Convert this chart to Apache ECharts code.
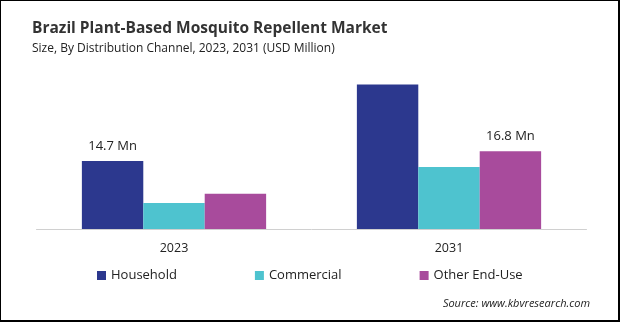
<!DOCTYPE html>
<html>
<head>
<meta charset="utf-8">
<script src="https://cdn.jsdelivr.net/npm/echarts@6/dist/echarts.min.js"></script>
<style>
html,body{margin:0;padding:0;background:#fff;}
#wrap{position:relative;width:620px;height:322px;}
#chart{position:absolute;left:0;top:0;width:620px;height:322px;}
#frame{position:absolute;left:0;top:0;width:620px;height:322px;box-sizing:border-box;border-style:solid;border-color:#000;border-width:1px 2px 2px 1px;pointer-events:none;}
</style>
</head>
<body>
<div id="wrap"><div id="chart"></div><div id="frame"></div></div>
<script>
var categories = ['2023', '2031'];
var seriesNames = ['Household', 'Commercial', 'Other End-Use'];
var household = [14.7, 31.2];
var commercial = [5.6, 13.4];
var otherEndUse = [7.6, 16.8];
var labelTexts = { 'Household-0': '14.7 Mn', 'Other End-Use-1': '16.8 Mn' };
var colors = ['#2c388e', '#4ec3cf', '#a84b9c'];
var font = 'Open Sans';

function mkSeries(name, data, color) {
  return {
    name: name, type: 'bar', data: data, barGap: '0%', barCategoryGap: '33%',
    itemStyle: { color: color },
    label: {
      show: true, position: 'top', distance: 8, color: '#222', fontSize: 13, fontFamily: font,
      formatter: function (p) { var t = labelTexts[name + '-' + p.dataIndex]; return t ? t : ''; }
    },
    emphasis: { disabled: true }
  };
}

var chart = echarts.init(document.getElementById('chart'), null, { renderer: 'canvas' });
chart.setOption({
  animation: false,
  backgroundColor: '#fff',
  title: {
    text: 'Brazil Plant-Based Mosquito Repellent Market',
    subtext: 'Size, By Distribution Channel, 2023, 2031 (USD Million)',
    left: 27, top: 16, itemGap: 6,
    textStyle: { fontFamily: font, fontWeight: 'bold', fontSize: 15.5, color: '#333' },
    subtextStyle: { fontFamily: font, fontSize: 12, color: '#222' }
  },
  legend: {
    data: seriesNames, bottom: 35, left: 92, itemWidth: 9, itemHeight: 9, itemGap: 78,
    icon: 'rect',
    textStyle: { fontFamily: font, fontSize: 13, color: '#222' }
  },
  grid: { left: 36.5, right: 33.5, top: 67, bottom: 93, containLabel: false },
  xAxis: {
    type: 'category', data: categories,
    axisLine: { lineStyle: { color: '#d0d0d0', width: 1 } },
    axisTick: { show: false },
    axisLabel: { fontFamily: font, fontSize: 12.5, color: '#222', margin: 13 }
  },
  yAxis: { type: 'value', min: 0, max: 35, show: false, splitLine: { show: false } },
  graphic: [{
    type: 'text', right: 30, bottom: 13,
    style: { text: 'Source: www.kbvresearch.com', fontFamily: font, fontStyle: 'italic', fontSize: 11, fill: '#222' }
  }],
  series: [
    mkSeries(seriesNames[0], household, colors[0]),
    mkSeries(seriesNames[1], commercial, colors[1]),
    mkSeries(seriesNames[2], otherEndUse, colors[2])
  ]
});
</script>
</body>
</html>
